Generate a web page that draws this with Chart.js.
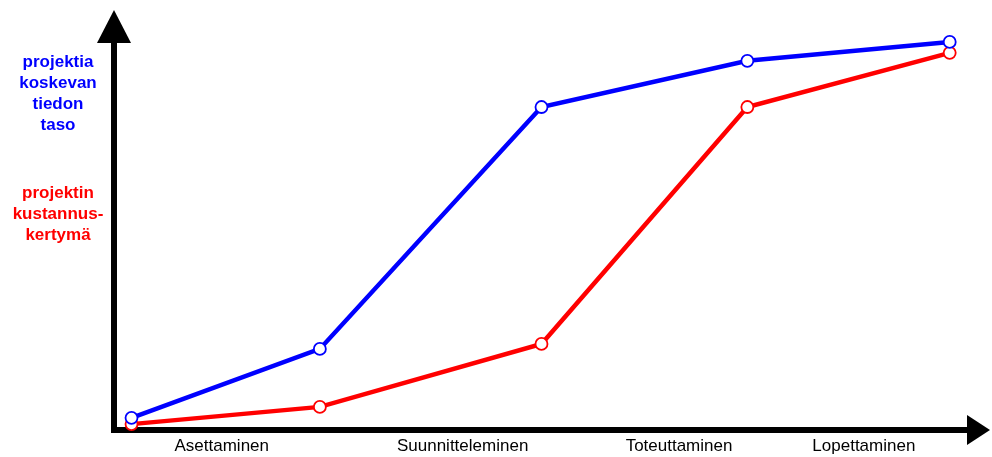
<!DOCTYPE html>
<html>
<head>
<meta charset="utf-8">
<script src="https://cdn.jsdelivr.net/npm/chart.js@4"></script>
<style>
    html, body { margin: 0; padding: 0; background: #fff; }
    #wrap { width: 992px; height: 457px; }
</style>
</head>
<body>
<div id="wrap"><canvas id="phaseChart"></canvas></div>
<script>
// project phases (x tick labels) and where they sit on the time axis (0..10)
const phases = ["Asettaminen", "Suunnitteleminen", "Toteuttaminen", "Lopettaminen"];
const phasePositions = [1.23, 3.98, 6.45, 8.56];

// time points of the curves (0..10)
const timePoints = [0.2, 2.35, 4.88, 7.23, 9.54];

// level of knowledge about the project (0..100)
const knowledge = [2.9, 19.3, 76.9, 87.9, 92.4];
// cumulative project cost (0..100)
const costs = [1.4, 5.5, 20.5, 76.9, 89.8];

const knowledgeLabel = ["projektia", "koskevan", "tiedon", "taso"];
const costLabel = ["projektin", "kustannus-", "kertymä"];

const FONT = "'Liberation Sans', Arial, sans-serif";

const axesPlugin = {
    id: "axesArrows",
    beforeDatasetsDraw(chart) {
        const { ctx, chartArea } = chart;
        const x0 = chartArea.left;
        const y0 = chartArea.bottom;

        ctx.save();
        ctx.strokeStyle = "#000";
        ctx.fillStyle = "#000";
        ctx.lineWidth = 6;

        // y axis
        ctx.beginPath();
        ctx.moveTo(x0, y0 + 3);
        ctx.lineTo(x0, chartArea.top + 30);
        ctx.stroke();
        ctx.beginPath();
        ctx.moveTo(x0, chartArea.top);
        ctx.lineTo(x0 - 17, chartArea.top + 33);
        ctx.lineTo(x0 + 17, chartArea.top + 33);
        ctx.closePath();
        ctx.fill();

        // x axis
        ctx.beginPath();
        ctx.moveTo(x0 - 3, y0);
        ctx.lineTo(chartArea.right - 20, y0);
        ctx.stroke();
        ctx.beginPath();
        ctx.moveTo(chartArea.right, y0);
        ctx.lineTo(chartArea.right - 23, y0 - 15);
        ctx.lineTo(chartArea.right - 23, y0 + 15);
        ctx.closePath();
        ctx.fill();

        // axis descriptions on the left
        ctx.font = "bold 17px " + FONT;
        ctx.textAlign = "center";
        ctx.textBaseline = "middle";
        ctx.fillStyle = "#0000ff";
        knowledgeLabel.forEach((t, i) => ctx.fillText(t, 58, 62 + i * 21));
        ctx.fillStyle = "#ff0000";
        costLabel.forEach((t, i) => ctx.fillText(t, 58, 193 + i * 21));
        ctx.restore();
    },
};

new Chart(document.getElementById("phaseChart"), {
    type: "line",

    data: {
        datasets: [
            {
                label: "projektia koskevan tiedon taso",
                data: timePoints.map((x, i) => ({ x, y: knowledge[i] })),
                borderColor: "#0000ff",
                backgroundColor: "#ffffff",
                pointBorderColor: "#0000ff",
                borderWidth: 4.5,
                pointRadius: 6,
                pointBorderWidth: 1.8,
                tension: 0,
                clip: false,
            },
            {
                label: "projektin kustannuskertymä",
                data: timePoints.map((x, i) => ({ x, y: costs[i] })),
                borderColor: "#ff0000",
                backgroundColor: "#ffffff",
                pointBorderColor: "#ff0000",
                borderWidth: 4.5,
                pointRadius: 6,
                pointBorderWidth: 1.8,
                tension: 0,
                clip: false,
            },
        ],
    },

    options: {
        responsive: true,
        maintainAspectRatio: false,
        animation: false,
        layout: {
            autoPadding: false,
            padding: { top: 10, right: 2, left: 0, bottom: 0 },
        },
        plugins: {
            legend: { display: false },
            tooltip: { enabled: false },
        },
        scales: {
            x: {
                type: "linear",
                min: 0,
                max: 10,
                grid: { display: false, drawTicks: false },
                border: { display: false },
                afterFit: (s) => {
                    s.height = 27;
                    s.paddingLeft = 0;
                    s.paddingRight = 0;
                },
                afterBuildTicks: (s) => {
                    s.ticks = phasePositions.map((v) => ({ value: v }));
                },
                ticks: {
                    padding: 6,
                    color: "#000",
                    font: { family: FONT, size: 17 },
                    maxRotation: 0,
                    autoSkip: false,
                    callback: (v) => phases[phasePositions.indexOf(v)] ?? "",
                },
            },
            y: {
                min: 0,
                max: 100,
                grid: { display: false, drawTicks: false },
                border: { display: false },
                ticks: { display: false },
                afterFit: (s) => { s.width = 114; },
            },
        },
    },

    plugins: [axesPlugin],
});
</script>
</body>
</html>
